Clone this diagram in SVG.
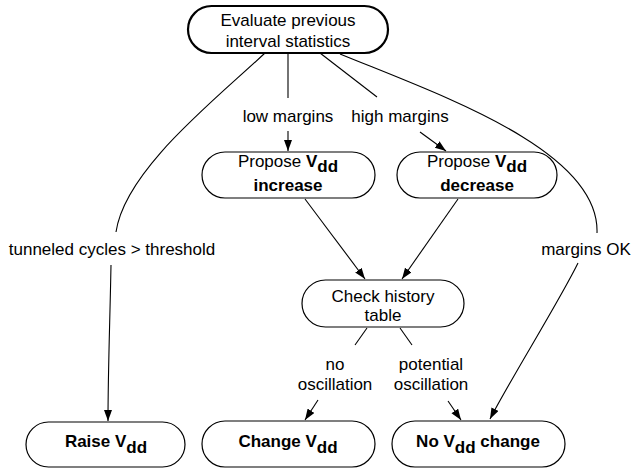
<svg xmlns="http://www.w3.org/2000/svg" width="631" height="468" viewBox="0 0 631 468">
<style>
  .node { fill: #fff; stroke: #000; stroke-width: 1.2; }
  .top { stroke-width: 2.2; }
  text { font-family: "Liberation Sans", Arial, Helvetica, sans-serif; font-size: 17px; fill: #000; }
  .c { text-anchor: middle; }
  .b { font-weight: bold; }
  .edge { fill: none; stroke: #000; stroke-width: 1.1; }
</style>
<defs>
  <marker id="arr" markerUnits="userSpaceOnUse" markerWidth="12" markerHeight="10" refX="11" refY="4" orient="auto">
    <path d="M0,0 L11,4 L0,8 z" fill="#000"/>
  </marker>
</defs>
<rect width="631" height="468" fill="#fff"/>
<g id="connectors">
  <path class="edge" d="M265,53 C215,100 125,170 116,232"/>
  <path class="edge" d="M111,265 C110,320 108,370 108,421" marker-end="url(#arr)"/>
  <line class="edge" x1="288" y1="53" x2="288" y2="98"/>
  <line class="edge" x1="288" y1="131" x2="288" y2="151" marker-end="url(#arr)"/>
  <line class="edge" x1="320" y1="53" x2="377" y2="97"/>
  <line class="edge" x1="420" y1="132" x2="446" y2="151" marker-end="url(#arr)"/>
  <path class="edge" d="M340,54 C440,95 600,150 597,233"/>
  <path class="edge" d="M578,263 C560,300 510,380 490,419" marker-end="url(#arr)"/>
  <line class="edge" x1="305" y1="199" x2="365" y2="279" marker-end="url(#arr)"/>
  <line class="edge" x1="458" y1="199" x2="402" y2="279" marker-end="url(#arr)"/>
  <line class="edge" x1="367" y1="328" x2="355" y2="345"/>
  <line class="edge" x1="400" y1="328" x2="412" y2="345"/>
  <line class="edge" x1="318" y1="400" x2="305" y2="420" marker-end="url(#arr)"/>
  <line class="edge" x1="448" y1="401" x2="461" y2="420" marker-end="url(#arr)"/>
  <text class="c" x="112" y="255">tunneled cycles &gt; threshold</text>
  <text class="c" x="288" y="122">low margins</text>
  <text class="c" x="400" y="122">high margins</text>
  <text class="c" x="586" y="255">margins OK</text>
  <text class="c" x="335" y="370">no</text>
  <text class="c" x="335" y="390">oscillation</text>
  <text class="c" x="431" y="370">potential</text>
  <text class="c" x="431" y="390">oscillation</text>
</g>
<g id="evaluate">
  <rect class="node top" x="188" y="6" width="200" height="47" rx="23.5"/>
  <text class="c" x="288" y="26">Evaluate previous</text>
  <text class="c" x="288" y="47">interval statistics</text>
</g>
<g id="increase">
  <rect class="node" x="202" y="152" width="173" height="46" rx="23"/>
  <text class="c" x="288" y="167">Propose <tspan class="b">V<tspan dy="5">dd</tspan></tspan></text>
  <text class="c b" x="288" y="191">increase</text>
</g>
<g id="decrease">
  <rect class="node" x="397" y="152" width="160" height="46" rx="23"/>
  <text class="c" x="477" y="167">Propose <tspan class="b">V<tspan dy="5">dd</tspan></tspan></text>
  <text class="c b" x="477" y="191">decrease</text>
</g>
<g id="check">
  <rect class="node" x="302" y="280" width="162" height="47" rx="23.5"/>
  <text class="c" x="383" y="302">Check history</text>
  <text class="c" x="383" y="321">table</text>
</g>
<g id="raise">
  <rect class="node" x="26" y="422" width="159" height="45" rx="22.5"/>
  <text class="c b" x="106" y="447">Raise V<tspan dy="6">dd</tspan></text>
</g>
<g id="change">
  <rect class="node" x="202" y="421" width="173" height="46" rx="23"/>
  <text class="c b" x="288" y="447">Change V<tspan dy="6">dd</tspan></text>
</g>
<g id="nochange">
  <rect class="node" x="392" y="421" width="173" height="46" rx="23"/>
  <text class="c b" x="478" y="447">No V<tspan dy="6">dd</tspan><tspan dy="-6"> change</tspan></text>
</g>
</svg>
